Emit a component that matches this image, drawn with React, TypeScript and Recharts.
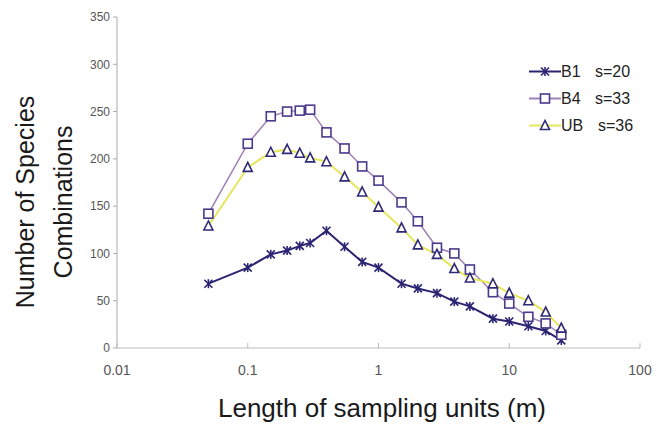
import React from "react";
import { LineChart, Line, XAxis, YAxis, Legend } from "recharts";

const lengths = [0.05, 0.1, 0.15, 0.2, 0.25, 0.3, 0.4, 0.55, 0.75, 1, 1.5, 2, 2.8, 3.8, 5, 7.5, 10, 14, 19, 25];
const b1 = [68, 85, 99, 103, 108, 111, 124, 107, 91, 85, 68, 63, 58, 49, 44, 31, 28, 23, 18, 8];
const b4 = [142, 216, 245, 250, 251, 252, 228, 211, 192, 177, 154, 134, 106, 100, 83, 59, 47, 33, 26, 14];
const ub = [129, 191, 207, 210, 206, 201, 197, 181, 165, 149, 127, 109, 99, 84, 74, 68, 58, 50, 38, 21];
const xTicks = [0.01, 0.1, 1, 10, 100];
const yTicks = [0, 50, 100, 150, 200, 250, 300, 350];

const seriesInfo = [
  { key: "b1", name: "B1", s: "s=20", color: "#2b2472", marker: "star" },
  { key: "b4", name: "B4", s: "s=33", color: "#9f80b8", marker: "square" },
  { key: "ub", name: "UB", s: "s=36", color: "#e6e65c", marker: "triangle" },
];

const data = lengths.map((len, i) => ({ len, b1: b1[i], b4: b4[i], ub: ub[i] }));

const FONT = "'Liberation Sans', Arial, sans-serif";

function Marker({ type, cx, cy }: { type: string; cx: number; cy: number }) {
  if (type === "star") {
    const r = 4;
    return (
      <g stroke="#2b2472" strokeWidth={1.6}>
        <line x1={cx - r} y1={cy - r} x2={cx + r} y2={cy + r} />
        <line x1={cx - r} y1={cy + r} x2={cx + r} y2={cy - r} />
        <line x1={cx} y1={cy - r - 0.5} x2={cx} y2={cy + r + 0.5} />
      </g>
    );
  }
  if (type === "square") {
    return <rect x={cx - 4.5} y={cy - 4.5} width={9} height={9} fill="#fff" stroke="#4a3a8c" strokeWidth={1.6} />;
  }
  const h = 5;
  return (
    <polygon
      points={`${cx},${cy - h} ${cx - 4.5},${cy + 4} ${cx + 4.5},${cy + 4}`}
      fill="#fff"
      stroke="#2e2a78"
      strokeWidth={1.6}
    />
  );
}

const makeDot = (type: string) => (props: any) => {
  const { cx, cy, index } = props;
  if (cx == null || cy == null) return <g key={`${type}-${index}`} />;
  return (
    <g key={`${type}-${index}`}>
      <Marker type={type} cx={cx} cy={cy} />
    </g>
  );
};

const XTick = (props: any) => {
  const { x, y, payload } = props;
  return (
    <g>
      <line x1={x} x2={x} y1={y} y2={y - 5} stroke="#bbbbbb" />
      <text x={x} y={y + 27} textAnchor="middle" fill="#555" fontSize={14} fontFamily={FONT}>
        {String(payload.value)}
      </text>
    </g>
  );
};

const renderLegend = () => (
  <div style={{ position: "relative", width: 145, height: 81, fontFamily: FONT, color: "#222" }}>
    {seriesInfo.map((s, i) => (
      <div key={s.key} style={{ position: "absolute", left: 0, top: i * 27, width: 145, height: 27 }}>
        <svg width={34} height={27} style={{ position: "absolute", left: 8, top: 0 }}>
          <line x1={1} x2={33} y1={13.5} y2={13.5} stroke={s.color} strokeWidth={2} />
          <Marker type={s.marker} cx={17} cy={13.5} />
        </svg>
        <span style={{ position: "absolute", left: 41, top: 0, lineHeight: "27px", fontSize: 16 }}>{s.name}</span>
        <span style={{ position: "absolute", left: s.key === "ub" ? 78 : 75, top: 0, lineHeight: "27px", fontSize: 16 }}>
          {s.s}
        </span>
      </div>
    ))}
  </div>
);

const YTitle = () => (
  <g fontFamily={FONT} fontSize={25} fill="#1a1a1a">
    <text x={34} y={202} textAnchor="middle" transform="rotate(-90, 34, 202)">
      Number of Species
    </text>
    <text x={72} y={202} textAnchor="middle" transform="rotate(-90, 72, 202)">
      Combinations
    </text>
  </g>
);

const XTitle = () => (
  <text x={382} y={417} textAnchor="middle" fontFamily={FONT} fontSize={26} fill="#1a1a1a">
    Length of sampling units (m)
  </text>
);

export default function App() {
  return (
    <div style={{ position: "absolute", left: 0, top: 0, width: 669, height: 428, background: "#fff" }}>
      <LineChart width={669} height={428} data={data} margin={{ top: 17, right: 29, bottom: 50, left: 57 }}>
        <XAxis
          dataKey="len"
          type="number"
          scale="log"
          domain={[0.01, 100]}
          ticks={xTicks}
          tickSize={0}
          tickMargin={0}
          tickLine={false}
          tick={<XTick />}
          axisLine={{ stroke: "#bbbbbb" }}
          height={30}
          interval={0}
          label={{ content: () => <XTitle /> }}
        />
        <YAxis
          type="number"
          domain={[0, 350]}
          ticks={yTicks}
          width={60}
          tickSize={4}
          tickMargin={3}
          interval={0}
          axisLine={{ stroke: "#aaaaaa" }}
          tickLine={{ stroke: "#aaaaaa" }}
          tick={{ fontSize: 12, fill: "#555", fontFamily: FONT }}
          label={{ content: () => <YTitle /> }}
        />
        <Legend
          layout="vertical"
          verticalAlign="middle"
          align="center"
          wrapperStyle={{ top: 58, left: 520, width: 145, height: 81 }}
          content={renderLegend}
        />
        <Line dataKey="b1" name="B1" stroke="#2b2472" strokeWidth={2} dot={makeDot("star")} isAnimationActive={false} />
        <Line dataKey="b4" name="B4" stroke="#9f80b8" strokeWidth={1.5} dot={makeDot("square")} isAnimationActive={false} />
        <Line dataKey="ub" name="UB" stroke="#e6e65c" strokeWidth={2} dot={makeDot("triangle")} isAnimationActive={false} />
      </LineChart>
    </div>
  );
}
